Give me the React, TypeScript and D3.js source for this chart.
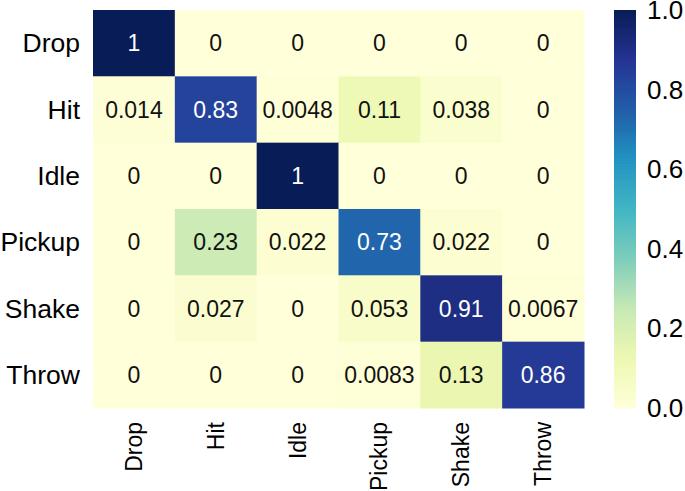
import React from "react";
import * as d3 from "d3";

const rowLabels = ["Drop", "Hit", "Idle", "Pickup", "Shake", "Throw"];
const colLabels = ["Drop", "Hit", "Idle", "Pickup", "Shake", "Throw"];
const dropRow = [1, 0, 0, 0, 0, 0];
const hitRow = [0.014, 0.83, 0.0048, 0.11, 0.038, 0];
const idleRow = [0, 0, 1, 0, 0, 0];
const pickupRow = [0, 0.23, 0.022, 0.73, 0.022, 0];
const shakeRow = [0, 0.027, 0, 0.053, 0.91, 0.0067];
const throwRow = [0, 0, 0, 0.0083, 0.13, 0.86];
const matrix = [dropRow, hitRow, idleRow, pickupRow, shakeRow, throwRow];
const cbTicks = [0, 0.2, 0.4, 0.6, 0.8, 1.0];

const FONT = "'Liberation Sans', Arial, sans-serif";

export default function App() {
  const W = 685, H = 491;
  const left = 93, right = 584, top = 10, bottom = 408;
  const x = d3.scaleBand<string>().domain(colLabels).range([left, right]);
  const y = d3.scaleBand<string>().domain(rowLabels).range([top, bottom]);
  const stops = d3.schemeYlGnBu[9] as string[];
  const color = d3
    .scaleLinear<string>()
    .domain(d3.range(stops.length).map((i) => i / (stops.length - 1)))
    .range(stops)
    .interpolate(d3.interpolateRgb)
    .clamp(true);
  const cbX = 614, cbW = 22;
  const cbY = d3.scaleLinear().domain([0, 1]).range([bottom, top]);
  const steps = d3.range(0, 200);

  const textColor = (v: number) => {
    const c = d3.rgb(color(v));
    const lin = (u: number) => {
      u /= 255;
      return u <= 0.03928 ? u / 12.92 : Math.pow((u + 0.055) / 1.055, 2.4);
    };
    const L = 0.2126 * lin(c.r) + 0.7152 * lin(c.g) + 0.0722 * lin(c.b);
    return L > 0.408 ? "#111" : "#fff";
  };

  return (
    <svg width={W} height={H} style={{ position: "absolute", left: 0, top: 0, background: "#fff" }}>
      {matrix.map((row, i) =>
        row.map((v, j) => (
          <g key={`${i}-${j}`}>
            <rect
              x={x(colLabels[j])}
              y={y(rowLabels[i])}
              width={x.bandwidth() + 0.5}
              height={y.bandwidth() + 0.5}
              fill={color(v)}
            />
            <text
              x={(x(colLabels[j]) as number) + x.bandwidth() / 2}
              y={(y(rowLabels[i]) as number) + y.bandwidth() / 2}
              textAnchor="middle"
              dominantBaseline="central"
              fontFamily={FONT}
              fontSize={23}
              fill={textColor(v)}
            >
              {String(v)}
            </text>
          </g>
        ))
      )}
      {rowLabels.map((r) => (
        <text
          key={r}
          x={80}
          y={(y(r) as number) + y.bandwidth() / 2}
          textAnchor="end"
          dominantBaseline="central"
          fontFamily={FONT}
          fontSize={26.5}
          fill="#000"
        >
          {r}
        </text>
      ))}
      {colLabels.map((c) => (
        <text
          key={c}
          transform={`translate(${(x(c) as number) + x.bandwidth() / 2},${422}) rotate(-90)`}
          textAnchor="end"
          dominantBaseline="central"
          fontFamily={FONT}
          fontSize={23}
          fill="#000"
        >
          {c}
        </text>
      ))}
      {steps.map((s) => {
        const v0 = s / steps.length;
        const v1 = (s + 1) / steps.length;
        return (
          <rect
            key={s}
            x={cbX}
            y={cbY(v1)}
            width={cbW}
            height={cbY(v0) - cbY(v1) + 0.6}
            fill={color((v0 + v1) / 2)}
          />
        );
      })}
      {cbTicks.map((t) => (
        <text
          key={t}
          x={647}
          y={cbY(t)}
          dominantBaseline="central"
          fontFamily={FONT}
          fontSize={26}
          fill="#000"
        >
          {t.toFixed(1)}
        </text>
      ))}
    </svg>
  );
}
